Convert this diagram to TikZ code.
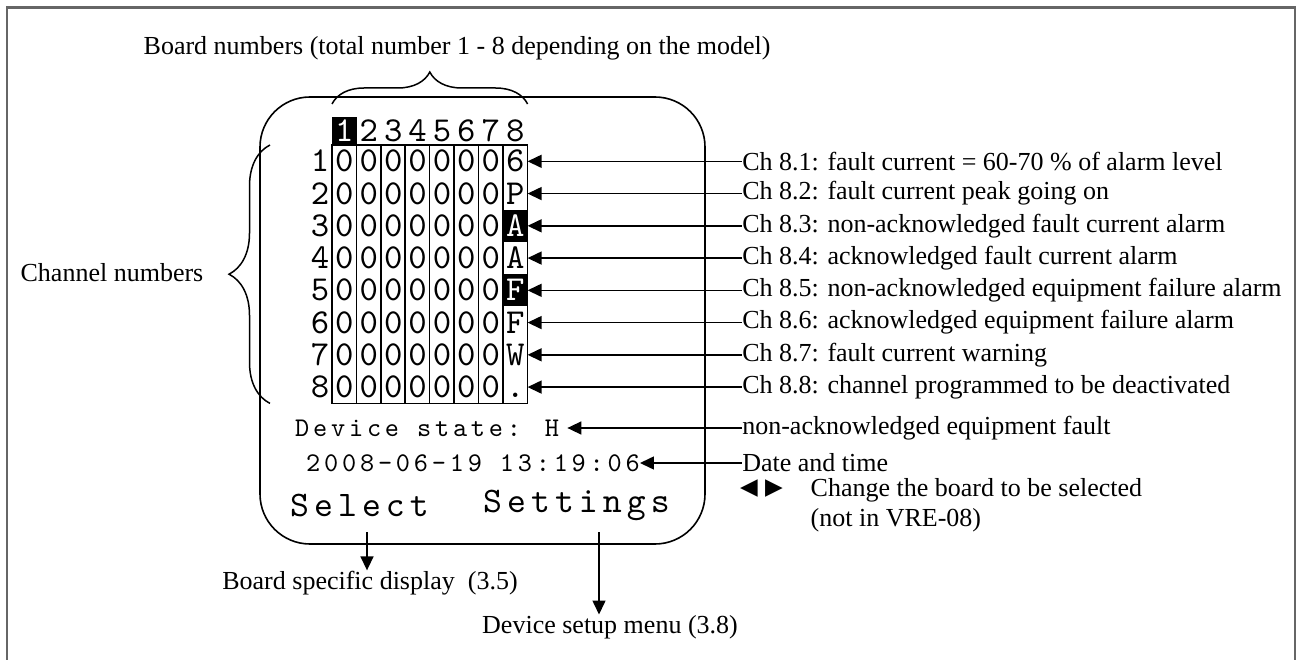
\documentclass[tikz,border=0pt]{standalone}
\usepackage{fontspec}
\setmainfont{Liberation Serif}
\newfontfamily\lcdfont{lmmono10-regular.otf}
\newfontfamily\lcdwide{lmmono10-regular.otf}[LetterSpace=14]
\newfontfamily\symfont{DejaVu Sans}
\usetikzlibrary{matrix,positioning,decorations.pathreplacing,arrows.meta}

\tikzset{
  lcdcell/.style={inner sep=0pt, minimum width=24.4pt, minimum height=32.25pt,
    text height=21pt, text depth=0pt,
    font=\lcdfont\fontsize{35}{36}\selectfont},
  lcdinv/.style={fill=black, text=white},
  lcdline/.style={inner sep=0pt, font=\lcdwide\fontsize{27}{28}\selectfont},
  lcdkey/.style={inner sep=0pt, font=\lcdwide\fontsize{36}{38}\selectfont},
  note/.style={inner sep=0.5pt, font=\fontsize{26}{30}\selectfont},
  pointer/.style={-{Triangle[length=14pt,width=13pt]}, line width=1.5pt},
  bracket/.style={decorate, line width=1.5pt},
}

\begin{document}
\begin{tikzpicture}[x=1pt, y=-1pt]
  \useasboundingbox (0,0) rectangle (1303,660);
  \draw[line width=2.5pt, black!60] (7,660) |- (1295,7.5) -- (1295,660);

  % display
  \draw[line width=1.6pt, rounded corners=50pt] (260,97) rectangle (705,544);
  \matrix (lcd) [matrix of nodes, nodes in empty cells,
    anchor=north west, inner sep=0pt, row sep=0pt, column sep=0pt,
    nodes={lcdcell},
    row 1/.style={nodes={minimum height=28pt}}
  ] at (307.6,117) {
      & |[lcdinv]| 1 & 2 & 3 & 4 & 5 & 6 & 7 & 8 \\
    1 & 0 & 0 & 0 & 0 & 0 & 0 & 0 & 6 \\
    2 & 0 & 0 & 0 & 0 & 0 & 0 & 0 & P \\
    3 & 0 & 0 & 0 & 0 & 0 & 0 & 0 & |[lcdinv]| A \\
    4 & 0 & 0 & 0 & 0 & 0 & 0 & 0 & A \\
    5 & 0 & 0 & 0 & 0 & 0 & 0 & 0 & |[lcdinv]| F \\
    6 & 0 & 0 & 0 & 0 & 0 & 0 & 0 & F \\
    7 & 0 & 0 & 0 & 0 & 0 & 0 & 0 & W \\
    8 & 0 & 0 & 0 & 0 & 0 & 0 & 0 & . \\
  };
  \draw[line width=1.6pt] (lcd-2-2.north west) rectangle (lcd-9-9.south east);
  \foreach \c in {3,...,9}
    \draw[line width=1.6pt] (lcd-2-\c.north west) -- (lcd-9-\c.south west);

  % braces
  \draw[bracket, decoration={brace, amplitude=32pt}]
    ([yshift=13pt]lcd-1-2.north west) -- ([yshift=13pt]lcd-1-9.north east);
  \node[note, anchor=west] (boardnum) at (143,48)
    {Board numbers (total number 1 - 8 depending on the model)};
  \draw[bracket, decoration={brace, amplitude=41pt}]
    ([xshift=-62pt]lcd-9-2.south west) -- ([xshift=-62pt]lcd-2-2.north west);
  \node[note, anchor=east] (chnum) at (204,273) {Channel numbers};

  % channel states of board 8
  \foreach \r/\txt in {1/{fault current = 60-70 \% of alarm level},
      2/{fault current peak going on},
      3/{non-acknowledged fault current alarm},
      4/{acknowledged fault current alarm},
      5/{non-acknowledged equipment failure alarm},
      6/{acknowledged equipment failure alarm},
      7/{fault current warning},
      8/{channel programmed to be deactivated}}{
    \pgfmathtruncatemacro{\rr}{\r+1}
    \node[note, anchor=west] (ch\r) at ([xshift=214pt]lcd-\rr-9.east) {Ch 8.\r: \txt};
    \draw[pointer] (ch\r.west) -- (lcd-\rr-9.east);
  }

  % status lines
  \node[lcdline, anchor=west] (devstate) at (295,428) {Device state: H};
  \node[note, anchor=west] (statelbl) at (devstate.east -| ch8.west)
    {non-acknowledged equipment fault};
  \draw[pointer] (statelbl.west) -- ([xshift=8pt]devstate.east);

  \node[lcdline, anchor=west] (datetime) at (306,463) {2008-06-19 13:19:06};
  \node[note, anchor=west] (timelbl) at (datetime.east -| ch8.west) {Date and time};
  \draw[pointer] (timelbl.west) -- (datetime.east);

  % soft keys
  \node[lcdkey, anchor=west] (selkey) at (290,505) {Select};
  \node[lcdkey, anchor=west] (setkey) at (483,505) {Settings};
  \coordinate (selfoot) at (367,532);
  \coordinate (setfoot) at (599,532);
  \node[note] (boarddisp) at (370,583) {Board specific display~~(3.5)};
  \node[note] (devsetup) at (610,627) {Device setup menu (3.8)};
  \draw[pointer] (selfoot) -- (selfoot |- boarddisp.north);
  \draw[pointer] (setfoot) -- (setfoot |- devsetup.north);

  % board change keys
  \node[anchor=west, inner sep=0pt, font=\symfont\fontsize{23}{25}\selectfont]
    (lrkeys) at (740,489) {◀ ▶};
  \node[note, anchor=west, align=left] (boardchg) at (810,505)
    {Change the board to be selected\\(not in VRE-08)};
\end{tikzpicture}
\end{document}
